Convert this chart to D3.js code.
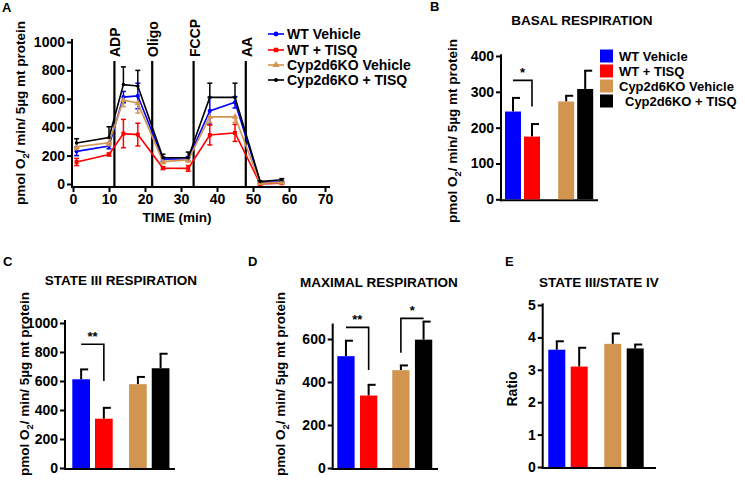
<!DOCTYPE html>
<html><head><meta charset="utf-8">
<script src="https://cdn.jsdelivr.net/npm/d3@7"></script>
<style>
body{margin:0;background:#fff}
svg{display:block}
text{font-family:"Liberation Sans",Arial,sans-serif;font-weight:bold;fill:#000}
</style>
</head><body>
<svg id="chart" width="745" height="482"></svg>
<script>
// ---------------- DATA ----------------
const groups = ["WT Vehicle", "WT + TISQ", "Cyp2d6KO Vehicle", "Cyp2d6KO + TISQ"];
const groupColors = ["#0000ff", "#ff0000", "#d1954f", "#000000"];

// Panel A: time course
const times = [1, 10, 14, 18, 25, 32, 38, 45, 52, 58];
const wtVehicle     = [230, 268, 612, 620, 175, 178, 515, 575, 12, 14];
const wtVehicleErr  = [30, 20, 40, 90, 15, 15, 95, 40, 5, 5];
const wtTisq        = [155, 208, 355, 348, 112, 110, 345, 360, 0, 5];
const wtTisqErr     = [25, 10, 100, 80, 10, 20, 70, 60, 5, 5];
const koVehicle     = [262, 290, 590, 570, 158, 170, 473, 473, 5, 10];
const koVehicleErr  = [20, 20, 45, 70, 15, 15, 40, 40, 5, 5];
const koTisq        = [289, 328, 700, 690, 185, 185, 610, 610, 17, 30];
const koTisqErr     = [30, 75, 125, 110, 25, 40, 100, 100, 5, 8];
const injections     = ["ADP", "Oligo", "FCCP", "AA"];
const injectionTimes = [11.5, 22, 33.5, 48];
const timeTicks = [0, 10, 20, 30, 40, 50, 60, 70];
const oxyTicksA = [0, 200, 400, 600, 800, 1000];

// Panel B: basal respiration
const basal    = [245, 175, 273, 308];
const basalErr = [38, 35, 16, 51];
const basalTicks = [0, 100, 200, 300, 400];
// Panel C: state III respiration
const state3    = [612, 340, 578, 688];
const state3Err = [68, 75, 50, 100];
const state3Ticks = [0, 200, 400, 600, 800, 1000];
// Panel D: maximal respiration
const maximal    = [520, 337, 455, 597];
const maximalErr = [72, 50, 22, 84];
const maximalTicks = [0, 200, 400, 600];
// Panel E: state III / state IV ratio
const ratio    = [3.62, 3.1, 3.8, 3.66];
const ratioErr = [0.26, 0.58, 0.32, 0.12];
const ratioTicks = [0, 1, 2, 3, 4, 5];

const yTitle = "pmol O2/ min/ 5µg mt protein";

// ---------------- DRAW ----------------
const svg = d3.select("#chart");
svg.append("rect").attr("width", 745).attr("height", 482).attr("fill", "#fff");

function yAxisTitle(x, y, fontSize) {
  const t = svg.append("text")
    .attr("transform", `translate(${x},${y}) rotate(-90)`)
    .attr("text-anchor", "middle")
    .attr("dominant-baseline", "central")
    .style("font-size", fontSize + "px");
  const parts = yTitle.split("2");
  t.append("tspan").text(parts[0]);
  t.append("tspan").attr("baseline-shift", "sub").style("font-size", (fontSize * 0.7) + "px").text("2");
  t.append("tspan").text(parts[1]);
}

function drawYAxis(scale, ticks, x, yBottom, yTop, fmt) {
  const g = svg.append("g").attr("transform", `translate(${x},0)`);
  g.call(d3.axisLeft(scale).tickValues(ticks).tickSize(5).tickPadding(2).tickFormat(fmt || d3.format("d")));
  g.select(".domain").remove();
  g.selectAll(".tick line").attr("stroke", "#000").attr("stroke-width", 2);
  g.selectAll(".tick text").style("font-size", "14px").style("font-family", '"Liberation Sans",Arial,sans-serif').style("font-weight", "bold");
  g.append("line").attr("x1", 0).attr("x2", 0).attr("y1", yBottom).attr("y2", yTop)
    .attr("stroke", "#000").attr("stroke-width", 2);
  return g;
}

function panelLetter(t, x, y) {
  svg.append("text").attr("x", x).attr("y", y).style("font-size", "13px").text(t);
}
function title(t, cx, y) {
  svg.append("text").attr("x", cx).attr("y", y).attr("text-anchor", "middle").style("font-size", "13.5px").text(t);
}

// ---- Panel A ----
const xA = d3.scaleLinear().domain([0, 70]).range([73, 325]);
const yA = d3.scaleLinear().domain([0, 1000]).range([184, 42]);
drawYAxis(yA, oxyTicksA, 72, 188, 39);
const gxA = svg.append("g").attr("transform", "translate(0,187)");
gxA.call(d3.axisBottom(xA).tickValues(timeTicks).tickSize(5).tickPadding(2).tickSizeOuter(0));
gxA.select(".domain").remove();
gxA.selectAll(".tick line").attr("stroke", "#000").attr("stroke-width", 2);
gxA.selectAll(".tick text").style("font-size", "14px").style("font-family", '"Liberation Sans",Arial,sans-serif').style("font-weight", "bold");
gxA.append("line").attr("x1", 71).attr("x2", 330).attr("stroke", "#000").attr("stroke-width", 2);

// injection lines
injections.forEach((name, i) => {
  const x = xA(injectionTimes[i]);
  svg.append("line").attr("x1", x).attr("x2", x).attr("y1", 61).attr("y2", 186)
    .attr("stroke", "#000").attr("stroke-width", 2.2);
  svg.append("text").attr("transform", `translate(${x + 1},57) rotate(-90)`)
    .attr("dominant-baseline", "central").style("font-size", "14px").text(name);
});

const seriesA = [
  {name: groups[0], vals: wtVehicle, err: wtVehicleErr, color: groupColors[0], dir: [1, -1], sym: d3.symbolCircle, size: 14},
  {name: groups[1], vals: wtTisq, err: wtTisqErr, color: groupColors[1], dir: [1, -1], sym: d3.symbolSquare, size: 16},
  {name: groups[2], vals: koVehicle, err: koVehicleErr, color: groupColors[2], dir: [-1], sym: d3.symbolTriangle, size: 18},
  {name: groups[3], vals: koTisq, err: koTisqErr, color: groupColors[3], dir: [1], sym: d3.symbolCircle, size: 10}
];
const lineA = d3.line().x((d, i) => xA(times[i])).y(d => yA(d));
seriesA.forEach(s => {
  const g = svg.append("g");
  s.vals.forEach((v, i) => {
    s.dir.forEach(dr => {
      const ye = yA(v + dr * s.err[i]);
      g.append("line").attr("x1", xA(times[i])).attr("x2", xA(times[i]))
        .attr("y1", yA(v)).attr("y2", ye).attr("stroke", s.color).attr("stroke-width", 1.5);
      g.append("line").attr("x1", xA(times[i]) - 2.5).attr("x2", xA(times[i]) + 2.5)
        .attr("y1", ye).attr("y2", ye).attr("stroke", s.color).attr("stroke-width", 1.5);
    });
  });
  g.append("path").attr("d", lineA(s.vals)).attr("fill", "none").attr("stroke", s.color).attr("stroke-width", 1.6);
  g.selectAll("path.pt").data(s.vals).join("path").attr("class", "pt")
    .attr("transform", (d, i) => `translate(${xA(times[i])},${yA(d)})`)
    .attr("d", d3.symbol().type(s.sym).size(s.size)).attr("fill", s.color);
});
// legend A
seriesA.forEach((s, i) => {
  const y = [34, 50, 65, 80][i];
  svg.append("line").attr("x1", 268).attr("x2", 284).attr("y1", y).attr("y2", y).attr("stroke", s.color).attr("stroke-width", 1.6);
  svg.append("path").attr("transform", `translate(276,${y})`).attr("d", d3.symbol().type(s.sym).size(s.size + 4)).attr("fill", s.color);
  svg.append("text").attr("x", 287).attr("y", y).attr("dominant-baseline", "central").style("font-size", "14px").text(s.name);
});
svg.append("text").attr("x", 177).attr("y", 222).attr("text-anchor", "middle").style("font-size", "13.5px").text("TIME (min)");
yAxisTitle(20, 113, 13.5);
panelLetter("A", 2, 12);

// ---- bar panels ----
function barPanel(cfg) {
  const y = d3.scaleLinear().domain([0, cfg.max]).range([cfg.y0, cfg.yMax]);
  const slot = d3.scaleLinear().domain([0, 1]).range([cfg.x0, cfg.x0 + cfg.step]);
  const slots = [0, 1, cfg.gap, cfg.gap + 1];
  drawYAxis(y, cfg.ticks, cfg.axisX, cfg.y0 + 2, y(cfg.axisTop), cfg.fmt);
  svg.append("line").attr("x1", cfg.axisX - 1).attr("x2", cfg.axisEnd).attr("y1", cfg.y0 + 1).attr("y2", cfg.y0 + 1)
    .attr("stroke", "#000").attr("stroke-width", 2);
  const g = svg.append("g");
  cfg.vals.forEach((v, i) => {
    const xl = slot(slots[i]);
    const xc = xl + cfg.barW / 2;
    g.append("line").attr("x1", xc).attr("x2", xc).attr("y1", y(v)).attr("y2", y(v + cfg.errs[i]))
      .attr("stroke", "#000").attr("stroke-width", 2);
    g.append("line").attr("x1", xc - 1).attr("x2", xc + 7).attr("y1", y(v + cfg.errs[i])).attr("y2", y(v + cfg.errs[i]))
      .attr("stroke", "#000").attr("stroke-width", 2);
    g.append("rect").attr("x", xl).attr("y", y(v)).attr("width", cfg.barW).attr("height", cfg.y0 - y(v))
      .attr("fill", groupColors[i]);
  });
  (cfg.brackets || []).forEach(b => {
    const xa = slot(slots[b.a]) + cfg.barW / 2, xb = slot(slots[b.b]) + cfg.barW / 2;
    const yTop = y(b.top);
    const pts = b.leftDrop
      ? [[xa, y(b.drop)], [xa, yTop], [xb, yTop]]
      : [[xa, yTop], [xb, yTop], [xb, y(b.drop)]];
    g.append("path").attr("d", d3.line()(pts)).attr("fill", "none").attr("stroke", "#000").attr("stroke-width", 1.6);
    g.append("text").attr("x", (xa + xb) / 2).attr("y", yTop - 3).attr("text-anchor", "middle")
      .style("font-size", "13px").text(b.label);
  });
  return y;
}

// B
barPanel({vals: basal, errs: basalErr, ticks: basalTicks, max: 400, axisTop: 405, y0: 199.3, yMax: 56,
  axisX: 501, axisEnd: 598, x0: 505, step: 19, barW: 16, gap: 2.8,
  brackets: [{a: 0, b: 1, top: 332, drop: 259, label: "*"}]});
title("BASAL RESPIRATION", 582, 25);
yAxisTitle(452, 131, 13.5);
panelLetter("B", 430, 11);
groups.forEach((name, i) => {
  const y = [56, 71, 86, 101][i];
  svg.append("rect").attr("x", 600).attr("y", y - 6.5).attr("width", 13).attr("height", 13).attr("fill", groupColors[i]);
  svg.append("text").attr("x", i === 3 ? 625 : 619).attr("y", y).attr("dominant-baseline", "central")
    .style("font-size", "13px").text(name);
});

// C
barPanel({vals: state3, errs: state3Err, ticks: state3Ticks, max: 1000, axisTop: 1020, y0: 468, yMax: 323,
  axisX: 65, axisEnd: 175, x0: 72.3, step: 22.7, barW: 17.7, gap: 2.5,
  brackets: [{a: 0, b: 1, top: 853, drop: 600, label: "**"}]});
title("STATE III RESPIRATION", 121, 285);
yAxisTitle(24, 384, 13.5);
panelLetter("C", 3, 266);

// D
barPanel({vals: maximal, errs: maximalErr, ticks: maximalTicks, max: 600, axisTop: 672, y0: 468, yMax: 339,
  axisX: 332.7, axisEnd: 438, x0: 337.3, step: 22.7, barW: 17.3, gap: 2.42,
  brackets: [{a: 0, b: 1, top: 654, drop: 456, label: "**"},
             {a: 2, b: 3, top: 696, drop: 536, label: "*", leftDrop: true}]});
title("MAXIMAL RESPIRATION", 379, 287);
yAxisTitle(280, 384, 13.5);
panelLetter("D", 248, 266);

// E
barPanel({vals: ratio, errs: ratioErr, ticks: ratioTicks, max: 5, axisTop: 5.05, y0: 467, yMax: 305,
  axisX: 542.7, axisEnd: 656, x0: 548.3, step: 22.4, barW: 17, gap: 2.5, fmt: d3.format("d")});
title("STATE III/STATE IV", 599, 287);
svg.append("text").attr("transform", "translate(512,389) rotate(-90)").attr("text-anchor", "middle")
  .attr("dominant-baseline", "central").style("font-size", "14px").text("Ratio");
panelLetter("E", 505, 266);
</script>
</body></html>
